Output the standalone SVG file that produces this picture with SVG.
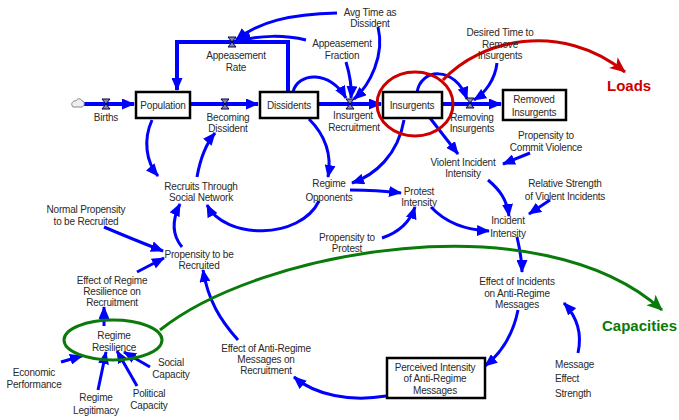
<svg xmlns="http://www.w3.org/2000/svg" width="679" height="420" viewBox="0 0 679 420">
<defs>
<style>
text{font-family:"Liberation Sans",Arial,sans-serif;font-size:10px;fill:#2a2a2a;text-anchor:middle;letter-spacing:-0.2px}
.stock{fill:#fff;stroke:#000;stroke-width:2.5}
.pipe{fill:none;stroke:#0000ff;stroke-width:4}
.link{fill:none;stroke:#0000ff;stroke-width:3;marker-end:url(#ab)}
.valve{fill:#8888aa;stroke:#000044;stroke-width:1}
.big{font-family:"Comic Sans MS","Liberation Sans",sans-serif;font-size:15px;font-weight:bold;text-anchor:start;letter-spacing:0}
</style>
<marker id="ab" markerUnits="userSpaceOnUse" markerWidth="13" markerHeight="11" refX="12" refY="5.5" orient="auto"><path d="M0,0 L13,5.5 L0,11 z" fill="#0000ff"/></marker>
<marker id="ar" markerUnits="userSpaceOnUse" markerWidth="16" markerHeight="14" refX="15" refY="7" orient="auto"><path d="M0,0 L16,7 L0,14 L4,7 z" fill="#cc0000"/></marker>
<marker id="ag" markerUnits="userSpaceOnUse" markerWidth="16" markerHeight="14" refX="15" refY="7" orient="auto"><path d="M0,0 L16,7 L0,14 L4,7 z" fill="#0a7a0a"/></marker>
</defs>

<g id="connectors">
<!-- flow pipes -->
<path class="pipe" d="M82 104 L134 104" marker-end="url(#ab)"/>
<path class="pipe" d="M190 104 L258 104" marker-end="url(#ab)"/>
<path class="pipe" d="M318 104 L381 104" marker-end="url(#ab)"/>
<path class="pipe" d="M442 104 L501 104" marker-end="url(#ab)"/>
<path class="pipe" d="M288 92 L288 42 L177 42 L177 90" marker-end="url(#ab)"/>
<!-- links -->
<path class="link" d="M337 13 C290 14,258 22,236 40"/>
<path class="link" d="M306 40 C285 35,260 35,239 41"/>
<path class="link" d="M378 27 C385 55,370 85,354 99"/>
<path class="link" d="M346 62 C350 75,352 85,351 98"/>
<path class="link" d="M293 92 C298 72,330 70,346 98"/>
<path class="link" d="M417 93 C420 68,455 65,467 99"/>
<path class="link" d="M497 63 C495 80,485 93,474 100"/>
<path class="link" d="M430 118 L458 154"/>
<path class="link" d="M404 120 C398 155,375 175,352 183"/>
<path class="link" d="M530 153 L503 164"/>
<path class="link" d="M488 180 C500 190,507 200,509 216"/>
<path class="link" d="M550 200 L529 214"/>
<path class="link" d="M350 190 C370 190,385 191,401 193"/>
<path class="link" d="M431 207 C445 222,465 230,489 231"/>
<path class="link" d="M382 238 C400 232,410 222,415 207"/>
<path class="link" d="M517 237 C520 250,522 260,522 272"/>
<path class="link" d="M578 353 C582 335,578 318,564 303"/>
<path class="link" d="M518 310 C514 330,505 350,485 366"/>
<path class="link" d="M386 396 C350 402,315 395,294 377"/>
<path class="link" d="M238 340 C220 320,208 300,203 270"/>
<path class="link" d="M137 272 L164 258"/>
<path class="link" d="M104 227 C125 236,145 244,163 251"/>
<path class="link" d="M182 247 C172 235,172 220,180 204"/>
<path class="link" d="M197 177 C200 160,205 145,215 133"/>
<path class="link" d="M152 120 C143 140,146 162,158 176"/>
<path class="link" d="M309 119 C325 135,332 155,328 177"/>
<path class="link" d="M319 201 C300 240,225 240,207 205"/>
<path class="link" d="M61 362 L82 356"/>
<path class="link" d="M98 390 L106 352"/>
<path class="link" d="M137 386 L117 351"/>
<path class="link" d="M150 367 L124 352"/>
<path class="link" d="M104 326 L104 307"/>
<!-- annotation arrows -->
<path d="M443 80 C480 40,560 20,625 72" fill="none" stroke="#cc0000" stroke-width="3" marker-end="url(#ar)"/>
<path d="M160 330 C260 250,540 200,662 310" fill="none" stroke="#0a7a0a" stroke-width="3" marker-end="url(#ag)"/>
</g>

<g id="births-cloud"><path d="M73 107 C70 104,73 100,76 101 C77 98,81 98,82 101 C85 101,85 106,82 107 Z" fill="#eee" stroke="#888" stroke-width="1"/></g>
<g id="births"><path class="valve" d="M102 99 L110 99 L102 109 L110 109 Z"/><text x="106" y="121">Births</text></g>
<g id="population"><rect class="stock" x="136" y="92" width="54" height="26"/><text x="163" y="109">Population</text></g>
<g id="becoming-dissident"><path class="valve" d="M221 99 L229 99 L221 109 L229 109 Z"/><text x="228" y="121">Becoming</text><text x="228" y="132">Dissident</text></g>
<g id="appeasement-rate"><path class="valve" d="M228 37 L236 37 L228 47 L236 47 Z"/><text x="236" y="59">Appeasement</text><text x="236" y="71">Rate</text></g>
<g id="dissidents"><rect class="stock" x="260" y="92" width="58" height="26"/><text x="289" y="109">Dissidents</text></g>
<g id="insurgent-recruitment"><path class="valve" d="M346 99 L354 99 L346 109 L354 109 Z"/><text x="353" y="119">Insurgent</text><text x="354" y="131">Recruitment</text></g>
<g id="insurgents"><rect class="stock" x="383" y="92" width="59" height="26"/><text x="412" y="109">Insurgents</text></g>
<g id="removing-insurgents"><path class="valve" d="M466 98 L474 98 L466 108 L474 108 Z"/><text x="472" y="121">Removing</text><text x="472" y="132">Insurgents</text></g>
<g id="removed-insurgents"><rect class="stock" x="503" y="90" width="63" height="30"/><text x="534" y="103">Removed</text><text x="534" y="116">Insurgents</text></g>
<g id="avg-time"><text x="370" y="16">Avg Time as</text><text x="370" y="27">Dissident</text></g>
<g id="appeasement-fraction"><text x="342" y="47">Appeasement</text><text x="342" y="59">Fraction</text></g>
<g id="desired-time"><text x="500" y="36">Desired Time to</text><text x="500" y="48">Remove</text><text x="500" y="59">Insurgents</text></g>
<g id="propensity-violence"><text x="546" y="139">Propensity to</text><text x="546" y="151">Commit Violence</text></g>
<g id="violent-incident-intensity"><text x="463" y="166">Violent Incident</text><text x="463" y="177">Intensity</text></g>
<g id="relative-strength"><text x="565" y="187">Relative Strength</text><text x="565" y="200">of Violent Incidents</text></g>
<g id="regime-opponents"><text x="329" y="187">Regime</text><text x="329" y="201">Opponents</text></g>
<g id="protest-intensity"><text x="419" y="195">Protest</text><text x="419" y="206">Intensity</text></g>
<g id="incident-intensity"><text x="508" y="224">Incident</text><text x="508" y="237">Intensity</text></g>
<g id="propensity-protest"><text x="347" y="241">Propensity to</text><text x="347" y="252">Protest</text></g>
<g id="effect-incidents"><text x="517" y="285">Effect of Incidents</text><text x="517" y="297">on Anti-Regime</text><text x="517" y="308">Messages</text></g>
<g id="message-effect-strength"><text x="555" y="368" style="text-anchor:start">Message</text><text x="555" y="382" style="text-anchor:start">Effect</text><text x="555" y="397" style="text-anchor:start">Strength</text></g>
<g id="perceived-intensity"><rect class="stock" x="387" y="358" width="98" height="40"/><text x="435" y="371">Perceived Intensity</text><text x="435" y="382">of Anti-Regime</text><text x="435" y="394">Messages</text></g>
<g id="recruits-social-network"><text x="201" y="190">Recruits Through</text><text x="201" y="201">Social Network</text></g>
<g id="normal-propensity"><text x="86" y="213">Normal Propensity</text><text x="86" y="225">to be Recruited</text></g>
<g id="propensity-recruited"><text x="199" y="258">Propensity to be</text><text x="199" y="269">Recruited</text></g>
<g id="effect-regime-resilience"><text x="112" y="284">Effect of Regime</text><text x="112" y="295">Resilience on</text><text x="112" y="306">Recruitment</text></g>
<g id="regime-resilience"><ellipse cx="113" cy="340" rx="49" ry="20" fill="none" stroke="#0a7a0a" stroke-width="3"/><text x="114" y="339">Regime</text><text x="114" y="351">Resilience</text></g>
<g id="economic-performance"><text x="34" y="376">Economic</text><text x="34" y="388">Performance</text></g>
<g id="regime-legitimacy"><text x="96" y="401">Regime</text><text x="96" y="414">Legitimacy</text></g>
<g id="political-capacity"><text x="149" y="397">Political</text><text x="149" y="409">Capacity</text></g>
<g id="social-capacity"><text x="171" y="366">Social</text><text x="171" y="378">Capacity</text></g>
<g id="effect-anti-regime"><text x="266" y="352">Effect of Anti-Regime</text><text x="266" y="363">Messages on</text><text x="266" y="374">Recruitment</text></g>
<g id="insurgents-highlight"><ellipse cx="415" cy="104" rx="38" ry="32" fill="none" stroke="#cc0000" stroke-width="3"/></g>
<g id="loads"><text class="big" x="607" y="91" style="fill:#cc0000">Loads</text></g>
<g id="capacities"><text class="big" x="602" y="331" style="fill:#0a7a0a">Capacities</text></g>
</svg>
